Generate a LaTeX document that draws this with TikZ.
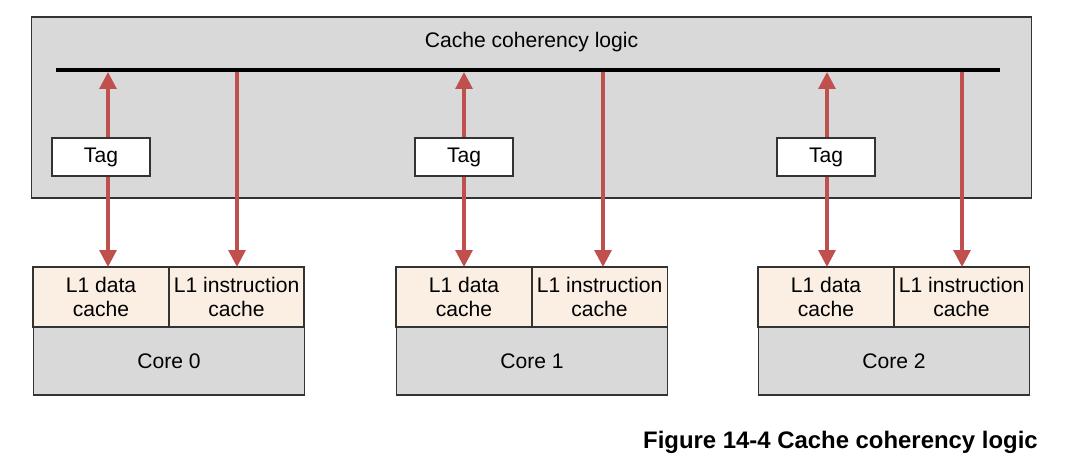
\documentclass[tikz,border=0pt]{standalone}
\usepackage{fontspec}
\setmainfont{Liberation Sans}
\usetikzlibrary{arrows.meta, positioning}
\definecolor{logicgray}{HTML}{D9D9D9}
\definecolor{cachetan}{HTML}{FBEFE4}
\definecolor{arrowred}{HTML}{C0504D}
\definecolor{edgedark}{HTML}{333333}
\tikzset{
  box/.style={draw=edgedark, line width=0.8pt, inner sep=0pt, outer sep=0pt, align=center,
              font=\fontsize{15}{17}\selectfont},
  cachebox/.style={box, fill=cachetan, minimum width=3.4cm, minimum height=1.5cm},
  corebox/.style={box, fill=logicgray, minimum width=6.775cm, minimum height=1.7cm},
  tagbox/.style={box, fill=white, minimum width=2.45cm, minimum height=0.95cm},
  link/.style={draw=arrowred, line width=2.2pt, -{Triangle[length=12pt, width=12pt]}},
  duallink/.style={link, {Triangle[length=12pt, width=12pt]}-{Triangle[length=12pt, width=12pt]}}
}

\begin{document}
\begin{tikzpicture}[x=0.025cm, y=-0.025cm]
    \useasboundingbox (0,0) rectangle (1070,461);
    \node[box, fill=logicgray, minimum width=24.975cm, minimum height=4.525cm] (logic) at (531.5,107.5) {};
    \node[font=\fontsize{15}{17}\selectfont] (title) at (531.5,42) {Cache coherency logic};
    \coordinate (busL) at (56,70);
    \coordinate (busR) at (1000,70);
    % one block per core: caches, core, links to the bus, tag
    \foreach \i/\cx/\dx/\ix in {0/101/108/237, 1/464/464/603, 2/826/827/962} {
      \node[cachebox] (dc\i) at (\cx,297) {L1 data\\cache};
      \node[cachebox, minimum width=3.375cm, right=0pt of dc\i] (ic\i) {L1 instruction\\cache};
      \node[corebox, below=0pt of dc\i.south east] (core\i) {Core \i};
      \coordinate (dtop\i) at (\dx,72);
      \coordinate (itop\i) at (\ix,70);
      \draw[duallink] (dtop\i) -- (dc\i.north -| dtop\i);
      \draw[link] (itop\i) -- (ic\i.north -| itop\i);
      \node[tagbox] (tag\i) at (\cx,157) {Tag};
    }
    \draw[line width=2.8pt] (busL) -- (busR);
    \node[anchor=east, inner sep=0pt, font=\fontsize{17}{20}\selectfont\bfseries] (caption) at (1038,442)
      {Figure 14-4 Cache coherency logic};
  \end{tikzpicture}
\end{document}
